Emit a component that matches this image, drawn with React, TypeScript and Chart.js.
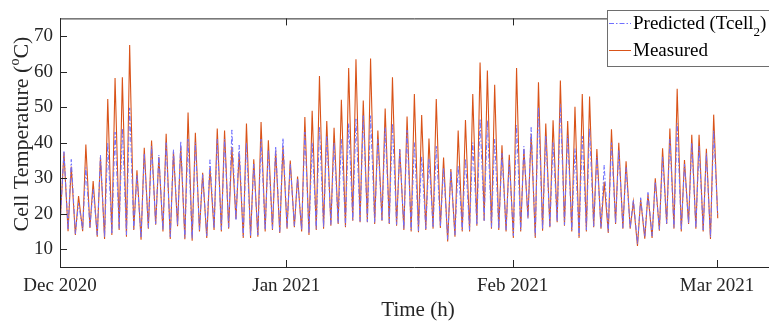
import React, { useEffect, useRef } from "react";
import { Chart, registerables } from "chart.js";
Chart.register(...registerables);

// Month ticks (days since 1 Dec 2020)
const monthTickDays = [0, 31, 62, 90];
const monthTickLabels = ["Dec 2020", "Jan 2021", "Feb 2021", "Mar 2021"];
const yTickValues = [10, 20, 30, 40, 50, 60, 70];

// Daily peak (around midday) and early-morning low
const measuredPeak = [
  37.3, 33.3, 25, 39.5, 29.2, 36, 52.3, 58.2, 58.4, 67.5,
  32.2, 38.6, 40.6, 36, 42.5, 37.5, 39, 48.5, 42.8, 31.5,
  33, 44, 43.4, 38.8, 37, 45.4, 35.3, 45.8, 40.7, 37.8,
  39, 35, 30.5, 47.2, 49, 58.8, 46.1, 44.2, 52.1, 61,
  63.5, 51.9, 63.7, 43.4, 49.6, 58.4, 38.2, 47.4, 53.7, 47.8,
  41.2, 52.3, 35.8, 32.6, 43.4, 46.4, 53.7, 62.6, 60.3, 56.3,
  39.3, 36.6, 61, 38.2, 42.5, 57, 45.4, 46.3, 57.5, 46.1,
  50.1, 53.7, 53, 38.2, 29, 43.8, 40, 34.8, 23.4, 24,
  25.5, 30, 38.4, 44, 55.2, 35.1, 42.2, 42.2, 38.3, 47.9,
];
const measuredLow = [
  17, 15.1, 14, 15.1, 16, 13.5, 12.9, 14, 15.4, 13.5,
  15.4, 12.7, 15.8, 16.9, 15, 12.9, 16.5, 12.8, 12.4, 15,
  13.2, 15.4, 15, 15.8, 18.5, 13.2, 13.2, 13.5, 15, 15.4,
  14.6, 15.8, 16.2, 15, 14, 15.4, 15.8, 16.6, 17.1, 16.2,
  18, 17.6, 17.6, 17.1, 18, 17.1, 16.6, 15.4, 15, 14.8,
  15.4, 15.8, 16, 12.2, 13.5, 15, 15, 16.6, 18, 15.8,
  15.4, 15, 13.2, 15, 18.9, 13.2, 15.2, 16.2, 17.6, 16.6,
  15, 13.2, 15, 16.2, 15.8, 14.6, 17.1, 15.8, 15.8, 10.9,
  13, 13.2, 15.2, 17.1, 15.8, 15, 17.1, 15.8, 15, 12.9,
];
const predictedPeak = [
  37.5, 35.3, 23, 33, 27, 36.5, 40, 43, 44, 49.8,
  31, 37, 39, 36.5, 40, 38, 40.4, 41, 40, 31,
  35.2, 41, 41, 43.6, 39.3, 40, 34, 41, 38, 39,
  41.3, 34, 30, 43, 40, 44.3, 42, 40, 41, 45.4,
  46.7, 47.6, 47.6, 41, 44.3, 45.4, 38, 43.5, 40, 36,
  35.5, 39, 33, 32, 33.5, 35.5, 40, 46.7, 46.3, 41,
  37, 35, 44.9, 39, 44.3, 50, 42, 40, 50.7, 42,
  38.3, 41.8, 44, 36, 33.7, 40, 38, 33, 24, 24.5,
  26, 29, 36, 41, 45.4, 34, 40, 39, 37, 43.4,
];
const predictedLow = [
  16.5, 15.5, 14.4, 15.6, 16.3, 14, 13.4, 14.3, 15.9, 14,
  15.8, 13.2, 16.1, 17.2, 15.4, 13.5, 16.8, 13.3, 13, 15.5,
  13.8, 15.9, 15.5, 16.2, 18.2, 13.8, 13.7, 14, 15.5, 15.8,
  15, 16.2, 16.6, 15.4, 14.5, 15.8, 16.2, 17, 17.4, 16.6,
  18.2, 17.9, 17.8, 17.5, 18.2, 17.4, 17, 15.8, 15.4, 15.2,
  15.8, 16.1, 16.4, 12.8, 14, 15.4, 15.4, 16.9, 18.1, 16.2,
  15.8, 15.4, 13.8, 15.4, 18.6, 13.8, 15.6, 16.5, 17.8, 16.9,
  15.4, 13.8, 15.4, 16.5, 16.1, 15, 17.3, 16.1, 16, 11.5,
  13.5, 13.7, 15.6, 17.3, 16.1, 15.4, 17.3, 16.1, 15.4, 13.4,
];
const measuredEnd = 18.7;
const predictedEnd = 19.3;
const lowHour = 2.5;
const peakHour = 13;

const FONT = "'Liberation Serif', 'Times New Roman', serif";
const AXIS = "#262626";

function buildSeries(low: number[], peak: number[], end: number) {
  const pts: { x: number; y: number }[] = [];
  for (let d = 0; d < peak.length; d++) {
    pts.push({ x: d === 0 ? 0 : d + lowHour / 24, y: low[d] });
    pts.push({ x: d + peakHour / 24, y: peak[d] });
  }
  pts.push({ x: peak.length + 0.1, y: end });
  return pts;
}

const framePlugin = {
  id: "frame",
  afterDraw(chart: any) {
    const { ctx, chartArea } = chart;
    const { left, top, right, bottom } = chartArea;
    const xs = chart.scales.x;
    const ys = chart.scales.y;
    ctx.save();
    ctx.strokeStyle = AXIS;
    ctx.lineWidth = 1;
    ctx.beginPath();
    ctx.moveTo(left + 0.5, top);
    ctx.lineTo(left + 0.5, bottom + 1);
    ctx.moveTo(left, top + 0.5);
    ctx.lineTo(right, top + 0.5);
    ctx.moveTo(left, bottom + 0.5);
    ctx.lineTo(right, bottom + 0.5);
    for (const v of yTickValues) {
      const p = Math.round(ys.getPixelForValue(v)) + 0.5;
      ctx.moveTo(left, p);
      ctx.lineTo(left + 7, p);
    }
    for (const v of monthTickDays) {
      const p = Math.round(xs.getPixelForValue(v)) + 0.5;
      ctx.moveTo(p, bottom);
      ctx.lineTo(p, bottom - 7);
      ctx.moveTo(p, top);
      ctx.lineTo(p, top + 7);
    }
    ctx.stroke();

    // Legend
    const lx = 607, ly = 10, lw = 180, lh = 56;
    ctx.fillStyle = "#ffffff";
    ctx.fillRect(lx, ly, lw, lh);
    ctx.strokeStyle = "#6e6e6e";
    ctx.strokeRect(lx + 0.5, ly + 0.5, lw, lh);
    ctx.lineWidth = 1;
    ctx.strokeStyle = "#7070ff";
    ctx.setLineDash([5, 2, 1.5, 2]);
    ctx.beginPath();
    ctx.moveTo(609, 23.5);
    ctx.lineTo(631, 23.5);
    ctx.stroke();
    ctx.setLineDash([]);
    ctx.strokeStyle = "#D95319";
    ctx.beginPath();
    ctx.moveTo(609, 50.5);
    ctx.lineTo(631, 50.5);
    ctx.stroke();
    ctx.fillStyle = "#000000";
    ctx.textBaseline = "alphabetic";
    ctx.textAlign = "left";
    ctx.font = `19px ${FONT}`;
    const t1 = "Predicted (Tcell";
    ctx.fillText(t1, 633, 29);
    const w = ctx.measureText(t1).width;
    ctx.font = `13px ${FONT}`;
    ctx.fillText("2", 633 + w, 36);
    const w2 = ctx.measureText("2").width;
    ctx.font = `19px ${FONT}`;
    ctx.fillText(")", 633 + w + w2, 29);
    ctx.fillText("Measured", 633, 56);

    // Axis titles
    ctx.fillStyle = AXIS;
    ctx.font = `21px ${FONT}`;
    ctx.textAlign = "center";
    ctx.fillText("Time (h)", 418, 316);

    ctx.save();
    ctx.translate(28, 134);
    ctx.rotate(-Math.PI / 2);
    ctx.textAlign = "left";
    const a = "Cell Temperature (";
    const b = "o";
    const c = "C)";
    ctx.font = `22px ${FONT}`;
    const wa = ctx.measureText(a).width;
    const wc = ctx.measureText(c).width;
    ctx.font = `14px ${FONT}`;
    const wb = ctx.measureText(b).width;
    const total = wa + wb + wc;
    const x0 = -total / 2;
    ctx.font = `22px ${FONT}`;
    ctx.fillText(a, x0, 0);
    ctx.font = `14px ${FONT}`;
    ctx.fillText(b, x0 + wa, -9);
    ctx.font = `22px ${FONT}`;
    ctx.fillText(c, x0 + wa + wb, 0);
    ctx.restore();
    ctx.restore();
  },
};

export default function App() {
  const ref = useRef<HTMLCanvasElement>(null);
  useEffect(() => {
    document.body.style.margin = "0";
    const canvas = ref.current!;
    const chart = new Chart(canvas, {
      type: "line",
      data: {
        datasets: [
          {
            label: "Predicted (Tcell2)",
            data: buildSeries(predictedLow, predictedPeak, predictedEnd),
            borderColor: "#7070ff",
            borderWidth: 1,
            borderDash: [5, 2, 1.5, 2],
            pointRadius: 0,
            tension: 0,
            fill: false,
          },
          {
            label: "Measured",
            data: buildSeries(measuredLow, measuredPeak, measuredEnd),
            borderColor: "#D95319",
            borderWidth: 1.1,
            pointRadius: 0,
            tension: 0,
            fill: false,
          },
        ],
      },
      options: {
        responsive: false,
        animation: false,
        devicePixelRatio: 1,
        layout: { padding: { top: 7, right: 0, left: 0, bottom: 0 } },
        plugins: { legend: { display: false }, tooltip: { enabled: false } },
        scales: {
          x: {
            type: "linear",
            min: 0,
            max: 97.12,
            afterBuildTicks: (s: any) => {
              s.ticks = monthTickDays.map((v) => ({ value: v }));
            },
            afterFit: (s: any) => {
              s.height = 58;
            },
            ticks: {
              autoSkip: false,
              maxRotation: 0,
              padding: 8,
              color: AXIS,
              font: { family: FONT, size: 19 },
              callback: (v: any) => {
                const i = monthTickDays.indexOf(Number(v));
                return i >= 0 ? monthTickLabels[i] : "";
              },
            },
            grid: { display: false, drawTicks: false },
            border: { display: false },
          },
          y: {
            min: 5,
            max: 75,
            afterBuildTicks: (s: any) => {
              s.ticks = yTickValues.map((v) => ({ value: v }));
            },
            afterFit: (s: any) => {
              s.width = 60;
            },
            ticks: {
              padding: 7,
              color: AXIS,
              font: { family: FONT, size: 19 },
            },
            grid: { display: false, drawTicks: false },
            border: { display: false },
          },
        },
      },
      plugins: [framePlugin],
    });
    return () => chart.destroy();
  }, []);
  return (
    <div style={{ position: "absolute", left: 0, top: 0, width: 769, height: 325, background: "#fff" }}>
      <canvas ref={ref} width={769} height={325} style={{ display: "block" }} />
    </div>
  );
}
